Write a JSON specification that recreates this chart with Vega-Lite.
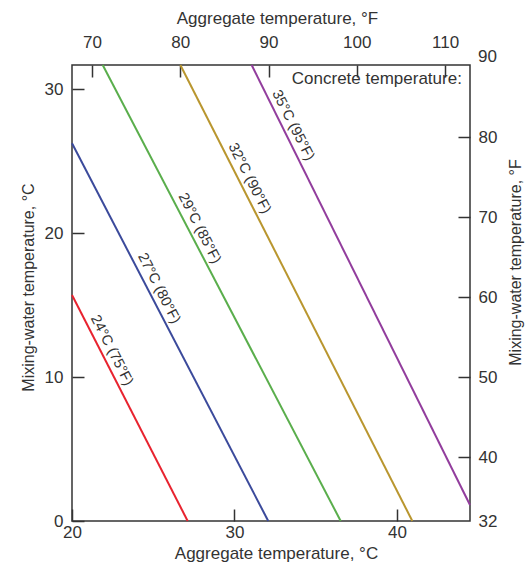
{
  "$schema": "https://vega.github.io/schema/vega-lite/v6.json",
  "autosize": {"type": "none"},
  "padding": {"left": 72, "top": 65, "right": 55, "bottom": 47},
  "width": 398,
  "height": 456,
  "config": {
    "view": {"stroke": "#333333", "strokeWidth": 1.5},
    "font": "Liberation Sans",
    "axis": {
      "domain": false,
      "grid": false,
      "labelFlush": false,
      "tickColor": "#333333",
      "tickWidth": 1.5,
      "tickSize": -12,
      "labelFont": "Liberation Sans",
      "labelFontSize": 17,
      "labelColor": "#333333",
      "titleFont": "Liberation Sans",
      "titleFontWeight": "normal",
      "titleColor": "#333333",
      "titleFontSize": 17
    }
  },
  "datasets": {
    "lines": [
      {"series": "24", "agg": 20, "water": 15.71},
      {"series": "24", "agg": 27.12, "water": 0},
      {"series": "27", "agg": 20, "water": 26.26},
      {"series": "27", "agg": 32.08, "water": 0},
      {"series": "29", "agg": 21.89, "water": 31.7},
      {"series": "29", "agg": 36.54, "water": 0},
      {"series": "32", "agg": 26.67, "water": 31.7},
      {"series": "32", "agg": 40.95, "water": 0},
      {"series": "35", "agg": 31.06, "water": 31.7},
      {"series": "35", "agg": 44.5, "water": 1.11}
    ],
    "labels": [
      {"label": "24°C (75°F)", "agg": 21.89, "water": 11.54},
      {"label": "27°C (80°F)", "agg": 24.79, "water": 15.85},
      {"label": "29°C (85°F)", "agg": 27.29, "water": 20.02},
      {"label": "32°C (90°F)", "agg": 30.36, "water": 23.5},
      {"label": "35°C (95°F)", "agg": 33.05, "water": 27.18}
    ],
    "note": [
      {"label": "Concrete temperature:", "agg": 44.0, "water": 30.73}
    ],
    "fahr": [
      {"aggF": 70, "waterF": 40},
      {"aggF": 110, "waterF": 80}
    ],
    "fahrTop": [
      {"aggF": 112.83, "waterF": 90, "label": "90"}
    ]
  },
  "layer": [
    {
      "layer": [
        {
          "data": {"name": "lines"},
          "mark": {"type": "line", "strokeWidth": 2},
          "encoding": {
            "x": {
              "field": "agg", "type": "quantitative",
              "scale": {"domain": [20, 44.5], "nice": false, "zero": false},
              "axis": {
                "orient": "bottom", "values": [20, 30, 40],
                "title": "Aggregate temperature, °C",
                "labelPadding": 15,
                "titleX": 204, "titleY": 32, "titleBaseline": "middle", "titleAnchor": "middle"
              }
            },
            "y": {
              "field": "water", "type": "quantitative",
              "scale": {"domain": [0, 31.7], "nice": false, "zero": false},
              "axis": {
                "orient": "left", "values": [0, 10, 20, 30],
                "title": "Mixing-water temperature, °C",
                "labelPadding": 21,
                "titleFontSize": 16,
                "titleAngle": 270,
                "titleX": -44, "titleY": 222, "titleBaseline": "middle", "titleAnchor": "middle"
              }
            },
            "color": {
              "field": "series", "type": "nominal",
              "scale": {"domain": ["24", "27", "29", "32", "35"], "range": ["#e8232f", "#3b4a9b", "#5aae4c", "#b9962f", "#923d9d"]},
              "legend": null
            },
            "detail": {"field": "series"}
          }
        },
        {
          "data": {"name": "labels"},
          "mark": {"type": "text", "angle": 63, "fontSize": 14.5, "baseline": "middle", "align": "center", "dy": -10, "color": "#333333"},
          "encoding": {
            "x": {"field": "agg", "type": "quantitative"},
            "y": {"field": "water", "type": "quantitative"},
            "text": {"field": "label"}
          }
        },
        {
          "data": {"name": "note"},
          "mark": {"type": "text", "fontSize": 17, "baseline": "middle", "align": "right", "color": "#333333"},
          "encoding": {
            "x": {"field": "agg", "type": "quantitative"},
            "y": {"field": "water", "type": "quantitative"},
            "text": {"field": "label"}
          }
        }
      ]
    },
    {
      "layer": [
        {
          "data": {"name": "fahr"},
          "mark": {"type": "point", "opacity": 0},
          "encoding": {
            "x": {
              "field": "aggF", "type": "quantitative",
              "scale": {"domain": [67.73, 112.83], "nice": false, "zero": false},
              "axis": {
                "orient": "top", "values": [70, 80, 90, 100, 110],
                "title": "Aggregate temperature, °F",
                "labelPadding": 26,
                "titleX": 205, "titleY": -47, "titleBaseline": "middle", "titleAnchor": "middle"
              }
            },
            "y": {
              "field": "waterF", "type": "quantitative",
              "scale": {"domain": [32, 89.06], "nice": false, "zero": false},
              "axis": {
                "orient": "right", "values": [32, 40, 50, 60, 70, 80],
                "title": "Mixing-water temperature, °F",
                "labelPadding": 20,
                "tickColor": {"condition": {"test": "datum.value == 32", "value": "transparent"}, "value": "#333333"},
                "titleFontSize": 16,
                "titleAngle": 270,
                "titleX": 45, "titleY": 197, "titleBaseline": "middle", "titleAnchor": "middle"
              }
            }
          }
        },
        {
          "data": {"name": "fahrTop"},
          "mark": {"type": "text", "fontSize": 17, "align": "left", "baseline": "middle", "dx": 8, "color": "#333333"},
          "encoding": {
            "x": {"field": "aggF", "type": "quantitative"},
            "y": {"field": "waterF", "type": "quantitative"},
            "text": {"field": "label"}
          }
        }
      ]
    }
  ],
  "resolve": {"scale": {"x": "independent", "y": "independent"}}
}
